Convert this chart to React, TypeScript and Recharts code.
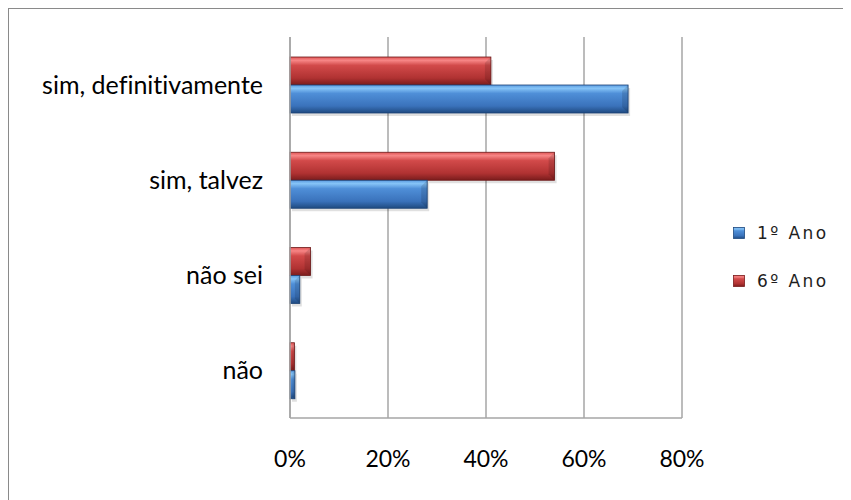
import React from 'react';
import { BarChart, Bar, XAxis, YAxis, CartesianGrid, Legend } from 'recharts';

const categories = ['sim, definitivamente', 'sim, talvez', 'não sei', 'não'];
const ano1 = [0.69, 0.28, 0.02, 0.01];
const ano6 = [0.41, 0.54, 0.042, 0.009];
const xTicks = [0, 0.2, 0.4, 0.6, 0.8];

const data = categories.map((c, i) => ({ name: c, ano1: ano1[i], ano6: ano6[i] }));

const FONT = 'Lato, "Open Sans", sans-serif';

const BevelBar = (props: any) => {
  const { x, y, width, height, gid, edge } = props;
  if (!width || width <= 0) return null;
  const b = Math.min(6, width / 2);
  return (
    <g>
      <rect x={x + 2} y={y + 3} width={width} height={height} fill="rgba(0,0,0,0.12)" />
      <rect x={x} y={y} width={width} height={height} fill={`url(#${gid})`} stroke={edge} strokeWidth={0.8} />
      <polygon
        points={`${x + width - b},${y + b} ${x + width},${y} ${x + width},${y + height} ${x + width - b},${y + height - b}`}
        fill="rgba(0,0,0,0.12)"
      />
    </g>
  );
};

const LegendContent = (props: any) => {
  const items = [...(props.payload || [])];
  items.sort((a: any, b: any) => (a.dataKey === 'ano1' ? -1 : 1) - (b.dataKey === 'ano1' ? -1 : 1));
  return (
    <div style={{ fontFamily: '"DejaVu Sans", sans-serif', fontSize: 17, color: '#1e1e1e', letterSpacing: 2.4 }}>
      {items.map((it: any) => (
        <div key={it.value} style={{ display: 'flex', alignItems: 'center', height: 48 }}>
          <svg width={12} height={12} style={{ marginRight: 12 }}>
            <rect x={0.5} y={0.5} width={11} height={11} fill={`url(#${it.dataKey === 'ano1' ? 'gBlue' : 'gRed'})`} stroke={it.dataKey === 'ano1' ? '#1f4a80' : '#7a1c1c'} strokeWidth={0.8} />
          </svg>
          <span>{it.value}</span>
        </div>
      ))}
    </div>
  );
};

const tickStyle = { fill: '#000', fontSize: 25, fontFamily: FONT, style: { fontVariantLigatures: 'none' } } as any;

export default function App() {
  return (
    <div style={{ width: 850, height: 500, border: '1px solid #8a8a8a', boxSizing: 'border-box', background: '#fff' }}>
      <BarChart
        width={841}
        height={490}
        data={data}
        layout="vertical"
        margin={{ top: 28, right: 168, bottom: 41, left: 0 }}
        barSize={28}
        barGap={0}
      >
        <defs>
          <linearGradient id="gBlue" x1="0" y1="0" x2="0" y2="1">
            <stop offset="0%" stopColor="#5a9be0" />
            <stop offset="12%" stopColor="#86c4f7" />
            <stop offset="30%" stopColor="#4f8fd8" />
            <stop offset="75%" stopColor="#3a72bb" />
            <stop offset="100%" stopColor="#1f4a80" />
          </linearGradient>
          <linearGradient id="gRed" x1="0" y1="0" x2="0" y2="1">
            <stop offset="0%" stopColor="#e05555" />
            <stop offset="12%" stopColor="#f78686" />
            <stop offset="30%" stopColor="#d24a4a" />
            <stop offset="75%" stopColor="#b03232" />
            <stop offset="100%" stopColor="#7a1c1c" />
          </linearGradient>
        </defs>
        <CartesianGrid horizontal={false} stroke="#a6a6a6" strokeWidth={1.5} />
        <XAxis
          type="number"
          domain={[0, 0.8]}
          ticks={xTicks}
          tickFormatter={(v: number) => `${Math.round(v * 100)}%`}
          axisLine={{ stroke: '#a6a6a6', strokeWidth: 1.5 }}
          tickLine={false}
          tickSize={6}
          tickMargin={27}
          height={40}
          tick={{ ...tickStyle, fontSize: 23 }}
        />
        <YAxis
          type="category"
          dataKey="name"
          width={281}
          axisLine={{ stroke: '#a6a6a6', strokeWidth: 1.5 }}
          tickLine={false}
          tickSize={6}
          tickMargin={21}
          tick={tickStyle}
        />
        <Legend
          layout="vertical"
          align="center"
          verticalAlign="middle"
          wrapperStyle={{ left: 724, top: 200, width: 120 }}
          content={<LegendContent />}
        />
        <Bar dataKey="ano6" name="6º Ano" fill="#c0392b" isAnimationActive={false} shape={(p: any) => <BevelBar {...p} gid="gRed" edge="#6e1919" />} />
        <Bar dataKey="ano1" name="1º Ano" fill="#3a72bb" isAnimationActive={false} shape={(p: any) => <BevelBar {...p} gid="gBlue" edge="#1c4275" />} />
      </BarChart>
    </div>
  );
}
